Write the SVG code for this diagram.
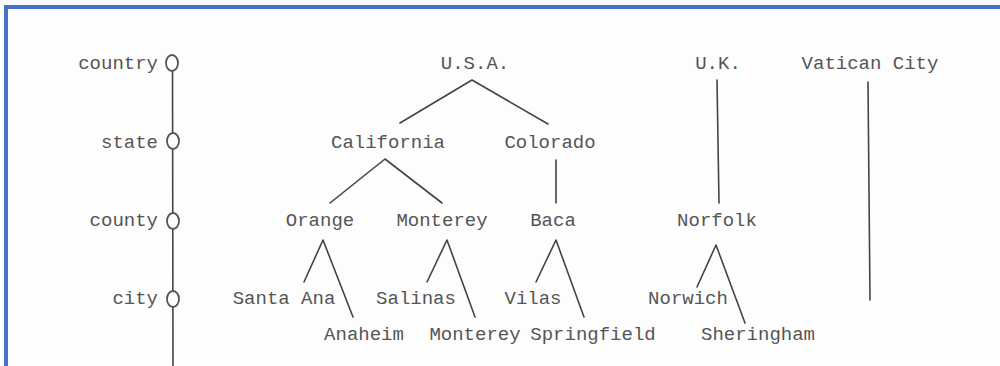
<svg xmlns="http://www.w3.org/2000/svg" width="1000" height="366" viewBox="0 0 1000 366">
  <style>
    .lbl { font-family: "Liberation Mono", "Courier New", monospace; font-size: 19px; fill: #555; }
    .node { text-anchor: middle; }
    .lvl { text-anchor: end; }
    .edge { stroke: #444; stroke-width: 1.6; fill: none; stroke-linecap: round; stroke-linejoin: round; }
    .ring { stroke: #555; stroke-width: 1.8; fill: #fff; }
  </style>

  <!-- page and frame -->
  <rect x="0" y="0" width="1000" height="366" fill="#fdfdfd"/>
  <rect x="4" y="5" width="996" height="4" fill="#4472c4"/>
  <rect x="4" y="5" width="4" height="361" fill="#4472c4"/>

  <!-- hierarchy levels axis -->
  <g id="levels">
    <line class="edge" x1="172.5" y1="63" x2="173" y2="366"/>
    <g id="level-country">
      <ellipse class="ring" cx="172" cy="63" rx="6" ry="8"/>
      <text class="lbl lvl" x="158" y="69">country</text>
    </g>
    <g id="level-state">
      <ellipse class="ring" cx="173" cy="141" rx="6" ry="8"/>
      <text class="lbl lvl" x="158" y="148">state</text>
    </g>
    <g id="level-county">
      <ellipse class="ring" cx="173" cy="221" rx="6" ry="8"/>
      <text class="lbl lvl" x="158" y="226">county</text>
    </g>
    <g id="level-city">
      <ellipse class="ring" cx="173" cy="299" rx="6" ry="8"/>
      <text class="lbl lvl" x="158" y="304">city</text>
    </g>
  </g>

  <!-- tree edges -->
  <g id="connectors">
    <polyline class="edge" points="400,123 472,80 548,124"/>
    <polyline class="edge" points="330,203 385,159 442,203"/>
    <line class="edge" x1="556" y1="160" x2="556" y2="203"/>
    <line class="edge" x1="717" y1="80" x2="719" y2="203"/>
    <line class="edge" x1="868" y1="82" x2="870" y2="300"/>
    <polyline class="edge" points="304,282 323,240 353,317"/>
    <polyline class="edge" points="427,282 447,240 475,317"/>
    <polyline class="edge" points="536,282 556,240 584,317"/>
    <polyline class="edge" points="697,287 716,245 745,323"/>
  </g>

  <!-- countries -->
  <g id="usa"><text class="lbl node" x="475" y="69">U.S.A.</text></g>
  <g id="uk"><text class="lbl node" x="718" y="69">U.K.</text></g>
  <g id="vatican-city"><text class="lbl node" x="870" y="69">Vatican City</text></g>

  <!-- states -->
  <g id="california"><text class="lbl node" x="388" y="148">California</text></g>
  <g id="colorado"><text class="lbl node" x="550" y="148">Colorado</text></g>

  <!-- counties -->
  <g id="orange"><text class="lbl node" x="320" y="226">Orange</text></g>
  <g id="monterey-county"><text class="lbl node" x="442" y="226">Monterey</text></g>
  <g id="baca"><text class="lbl node" x="553" y="226">Baca</text></g>
  <g id="norfolk"><text class="lbl node" x="717" y="226">Norfolk</text></g>

  <!-- cities -->
  <g id="santa-ana"><text class="lbl node" x="284" y="304">Santa Ana</text></g>
  <g id="anaheim"><text class="lbl node" x="364" y="340">Anaheim</text></g>
  <g id="salinas"><text class="lbl node" x="416" y="304">Salinas</text></g>
  <g id="monterey-city"><text class="lbl node" x="475" y="340">Monterey</text></g>
  <g id="vilas"><text class="lbl node" x="533" y="304">Vilas</text></g>
  <g id="springfield"><text class="lbl node" x="593" y="340">Springfield</text></g>
  <g id="norwich"><text class="lbl node" x="688" y="304">Norwich</text></g>
  <g id="sheringham"><text class="lbl node" x="758" y="340">Sheringham</text></g>
</svg>
